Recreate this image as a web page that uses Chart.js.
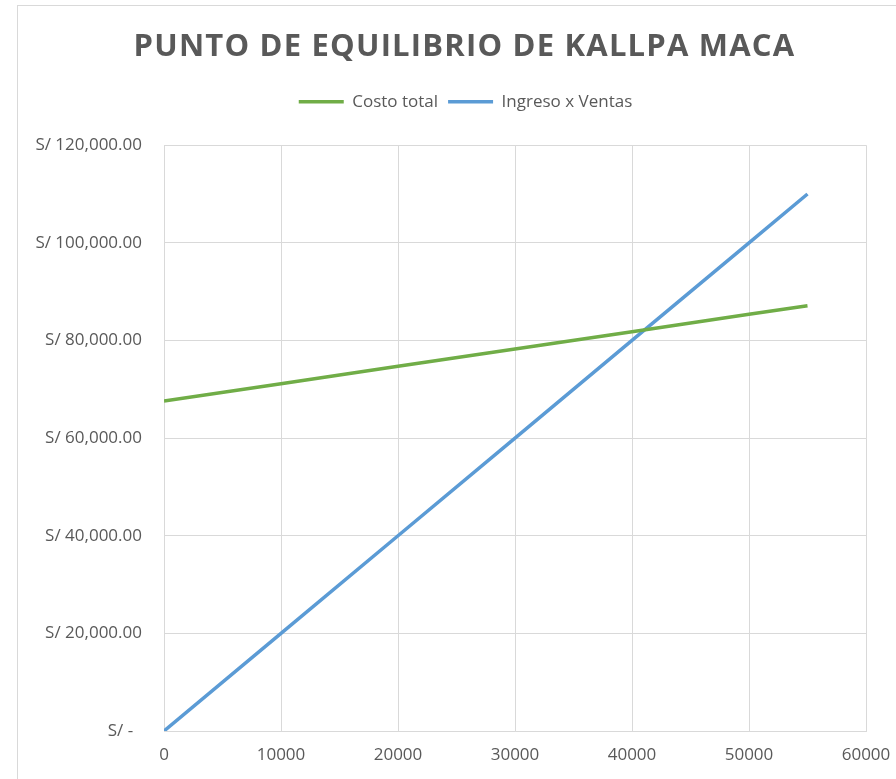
<!DOCTYPE html>
<html>
<head>
<meta charset="utf-8">
<script src="https://cdn.jsdelivr.net/npm/chart.js@4"></script>
<style>
  body { margin: 0; background: #fff; overflow: hidden; }
  #marco { position: absolute; left: 17px; top: 5px; width: 900px; height: 800px; border: 1px solid #d9d9d9; }
  #caja { position: absolute; left: 17px; top: 0; width: 894px; height: 779px; }
</style>
</head>
<body>
<div id="marco"></div>
<div id="caja"><canvas id="grafico"></canvas></div>
<script>
// unidades vendidas (eje x)
const unidades = [0, 10000, 20000, 30000, 40000, 50000, 55000];
// valores
const costoTotal = [67600, 71150, 74700, 78250, 81800, 85350, 87125];
const ingresoVentas = [0, 20000, 40000, 60000, 80000, 100000, 110000];
const etiquetasY = { 0: 'S/ -  ' }; // formato contable de Excel para cero

const gris = '#595959';
const fuente = "'Open Sans', sans-serif";

function puntos(valores) {
    return unidades.map((u, i) => ({ x: u, y: valores[i] }));
}

const ctx = document.getElementById('grafico').getContext('2d');
new Chart(ctx, {
    type: 'line',
    data: {
        datasets: [{
            label: 'Costo total',
            data: puntos(costoTotal),
            borderColor: '#70ad47',
            backgroundColor: '#70ad47',
            borderWidth: 3.5,
            pointRadius: 0
        }, {
            label: 'Ingreso x Ventas',
            data: puntos(ingresoVentas),
            borderColor: '#5b9bd5',
            backgroundColor: '#5b9bd5',
            borderWidth: 3.5,
            pointRadius: 0
        }]
    },
    options: {
        responsive: true,
        maintainAspectRatio: false,
        animation: false,
        layout: { padding: { left: 0, right: 45, top: 0, bottom: 0 } },
        plugins: {
            title: {
                display: true,
                text: 'PUNTO DE EQUILIBRIO DE KALLPA MACA',
                color: gris,
                font: { family: fuente, size: 31, weight: 'bold' },
                padding: { top: 29, bottom: 17 }
            },
            legend: {
                position: 'top',
                labels: {
                    color: gris,
                    font: { family: fuente, size: 17 },
                    usePointStyle: true,
                    pointStyle: 'line',
                    pointStyleWidth: 45,
                    boxHeight: 3,
                    padding: 10
                }
            },
            tooltip: { enabled: false }
        },
        scales: {
            x: {
                type: 'linear',
                min: 0,
                max: 60000,
                ticks: {
                    stepSize: 10000,
                    color: gris,
                    font: { family: fuente, size: 17 },
                    padding: 14,
                    callback: v => String(v)
                },
                grid: { color: '#d9d9d9', drawTicks: false },
                border: { color: '#d9d9d9' },
                afterFit: s => { s.height = 48; }
            },
            y: {
                min: 0,
                max: 120000,
                ticks: {
                    stepSize: 20000,
                    color: gris,
                    font: { family: fuente, size: 17 },
                    padding: 22,
                    callback: v => etiquetasY[v] || 'S/ ' + v.toLocaleString('en-US', { minimumFractionDigits: 2 })
                },
                grid: { color: '#d9d9d9', drawTicks: false },
                border: { color: '#d9d9d9' },
                afterFit: s => { s.width = 147; }
            }
        }
    },
    plugins: [{
        id: 'espacioLeyenda',
        beforeInit(chart) {
            // mas aire bajo la leyenda
            const fit = chart.legend.fit;
            chart.legend.fit = function() {
                fit.call(this);
                this.height += 25;
            };
            // titulo y leyenda centrados en todo el ancho, como en Excel
            const dibujarLeyenda = chart.legend.draw;
            chart.legend.draw = function() {
                const c = chart.ctx;
                c.save();
                c.translate(24, 0);
                dibujarLeyenda.call(this);
                c.restore();
            };
            const dibujar = chart.titleBlock.draw;
            chart.titleBlock.draw = function() {
                const c = chart.ctx;
                c.save();
                c.translate(23, 0);
                c.letterSpacing = '1.2px';
                dibujar.call(this);
                c.restore();
            };
        }
    }]
});
</script>
</body>
</html>
